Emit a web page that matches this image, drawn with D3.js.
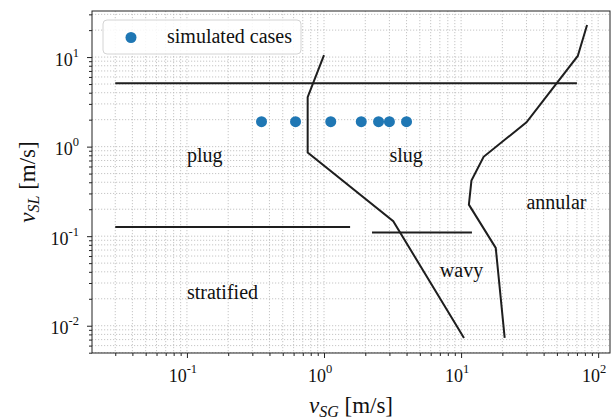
<!DOCTYPE html>
<html><head><meta charset="utf-8">
<script src="https://cdn.jsdelivr.net/npm/d3@7"></script>
<style>
body{margin:0;background:#fff;}
</style></head>
<body><svg id="c" width="611" height="417" font-family="'Liberation Serif', 'Times New Roman', 'DejaVu Serif', serif"></svg>
<script>
// ---- data ----
const xDomain = [0.0203, 122];
const yDomain = [0.00496, 32.7];
const majorExpX = [-1, 0, 1, 2];
const majorExpY = [-2, -1, 0, 1];
const casesX = [0.35, 0.62, 1.12, 1.87, 2.5, 3.0, 4.0];
const casesY = [1.9, 1.9, 1.9, 1.9, 1.9, 1.9, 1.9];
const plugSlugX = [1.0, 0.76, 0.76, 3.2, 10.5];
const plugSlugY = [10.5, 3.57, 0.86, 0.147, 0.0073];
const annularX = [83, 71, 30, 14.6, 11.9, 11.4, 17.9, 20.8];
const annularY = [22.8, 10.3, 1.87, 0.77, 0.417, 0.225, 0.074, 0.0073];
const hLineX0 = [0.03, 0.03, 2.24];
const hLineX1 = [70, 1.55, 12];
const hLineY = [5.1, 0.127, 0.11];
const regionNames = ["plug", "slug", "annular", "wavy", "stratified"];
const regionX = [0.1, 3.0, 30, 7.0, 0.1];
const regionY = [0.67, 0.67, 0.2, 0.035, 0.02];
const legendLabel = "simulated cases";

// ---- layout ----
const FONT = "'Liberation Serif', 'Times New Roman', 'DejaVu Serif', serif";
const svg = d3.select("#c");
const L = 92, T = 11, R = 610, B = 353;
const x = d3.scaleLog().domain(xDomain).range([L, R]);
const y = d3.scaleLog().domain(yDomain).range([B, T]);

function logTicks(dom){
  const out = [];
  for (let e = Math.floor(Math.log10(dom[0])); e <= Math.ceil(Math.log10(dom[1])); e++){
    for (let m = 1; m < 10; m++){
      const v = m * Math.pow(10, e);
      if (v >= dom[0]*0.999 && v <= dom[1]*1.001) out.push({v, major: m === 1});
    }
  }
  return out;
}
const tx = logTicks(xDomain), ty = logTicks(yDomain);

// grid
const grid = svg.append("g").attr("stroke", "#b8b8b8").attr("stroke-width", 0.8)
  .attr("stroke-dasharray", "1.2,1.8");
grid.selectAll(".gx").data(tx).join("line")
  .attr("x1", d => x(d.v)).attr("x2", d => x(d.v)).attr("y1", T).attr("y2", B);
grid.selectAll(".gy").data(ty).join("line")
  .attr("y1", d => y(d.v)).attr("y2", d => y(d.v)).attr("x1", L).attr("x2", R);

// axes ticks
const ax = svg.append("g").attr("transform", `translate(0,${B})`)
  .call(d3.axisBottom(x).tickValues(tx.filter(d=>d.major).map(d=>d.v)).tickFormat("").tickSize(5).tickSizeOuter(0));
const axm = svg.append("g").attr("transform", `translate(0,${B})`)
  .call(d3.axisBottom(x).tickValues(tx.filter(d=>!d.major).map(d=>d.v)).tickFormat("").tickSize(3).tickSizeOuter(0));
const ay = svg.append("g").attr("transform", `translate(${L},0)`)
  .call(d3.axisLeft(y).tickValues(ty.filter(d=>d.major).map(d=>d.v)).tickFormat("").tickSize(5).tickSizeOuter(0));
const aym = svg.append("g").attr("transform", `translate(${L},0)`)
  .call(d3.axisLeft(y).tickValues(ty.filter(d=>!d.major).map(d=>d.v)).tickFormat("").tickSize(3).tickSizeOuter(0));
[ax, axm, ay, aym].forEach(g => { g.select(".domain").remove(); g.selectAll("line").attr("stroke", "#222").attr("stroke-width", 1); });

function txt(sel){ return sel.append("text").attr("font-family", FONT).attr("fill", "#111"); }

// tick labels
majorExpX.forEach(e => {
  const t = txt(svg).attr("x", x(Math.pow(10, e)) - 4).attr("y", 382)
    .attr("text-anchor", "middle").attr("font-size", 18);
  t.append("tspan").text("10");
  t.append("tspan").attr("dy", -9).attr("font-size", 12.5).text(String(e));
});
majorExpY.forEach(e => {
  const t = txt(svg).attr("x", 79).attr("y", y(Math.pow(10, e)) + 8.5)
    .attr("text-anchor", "end").attr("font-size", 18);
  t.append("tspan").text("10");
  t.append("tspan").attr("dy", -9).attr("font-size", 12.5).text(String(e));
});

// frame
svg.append("rect").attr("x", L).attr("y", T).attr("width", R - L).attr("height", B - T)
  .attr("fill", "none").attr("stroke", "#222").attr("stroke-width", 1);

// boundary lines
const line = d3.line().x(d => x(d[0])).y(d => y(d[1]));
const lines = svg.append("g").attr("fill", "none").attr("stroke", "#1e1e1e").attr("stroke-width", 2);
lines.append("path").attr("d", line(plugSlugX.map((v, i) => [v, plugSlugY[i]])));
lines.append("path").attr("d", line(annularX.map((v, i) => [v, annularY[i]])));
hLineY.forEach((v, i) => {
  lines.append("line").attr("x1", x(hLineX0[i])).attr("x2", x(hLineX1[i]))
    .attr("y1", y(v)).attr("y2", y(v));
});

// points
svg.append("g").selectAll("circle").data(casesX).join("circle")
  .attr("cx", d => x(d)).attr("cy", (d, i) => y(casesY[i])).attr("r", 5.5).attr("fill", "#1f77b4");

// region labels
regionNames.forEach((n, i) => {
  txt(svg).attr("x", x(regionX[i])).attr("y", y(regionY[i])).attr("font-size", 20).text(n);
});

// legend
const lg = svg.append("g");
lg.append("rect").attr("x", 103).attr("y", 20).attr("width", 198).attr("height", 34).attr("rx", 4)
  .attr("fill", "#fff").attr("fill-opacity", 0.85).attr("stroke", "#d4d4d4").attr("stroke-width", 1);
lg.append("circle").attr("cx", 131).attr("cy", 37.5).attr("r", 5.5).attr("fill", "#1f77b4");
txt(lg).attr("x", 167).attr("y", 43).attr("font-size", 20).text(legendLabel);

// axis labels
const xl = txt(svg).attr("x", 351).attr("y", 413).attr("text-anchor", "middle").attr("font-size", 23);
xl.append("tspan").attr("font-style", "italic").text("v");
xl.append("tspan").attr("font-style", "italic").attr("font-size", 16).attr("dy", 4).text("SG");
xl.append("tspan").attr("dy", -4).text(" [m/s]");
const yl = txt(svg).attr("transform", `translate(35,${(T + B) / 2}) rotate(-90)`)
  .attr("text-anchor", "middle").attr("font-size", 23);
yl.append("tspan").attr("font-style", "italic").text("v");
yl.append("tspan").attr("font-style", "italic").attr("font-size", 16).attr("dy", 4).text("SL");
yl.append("tspan").attr("dy", -4).text(" [m/s]");
</script></body></html>
